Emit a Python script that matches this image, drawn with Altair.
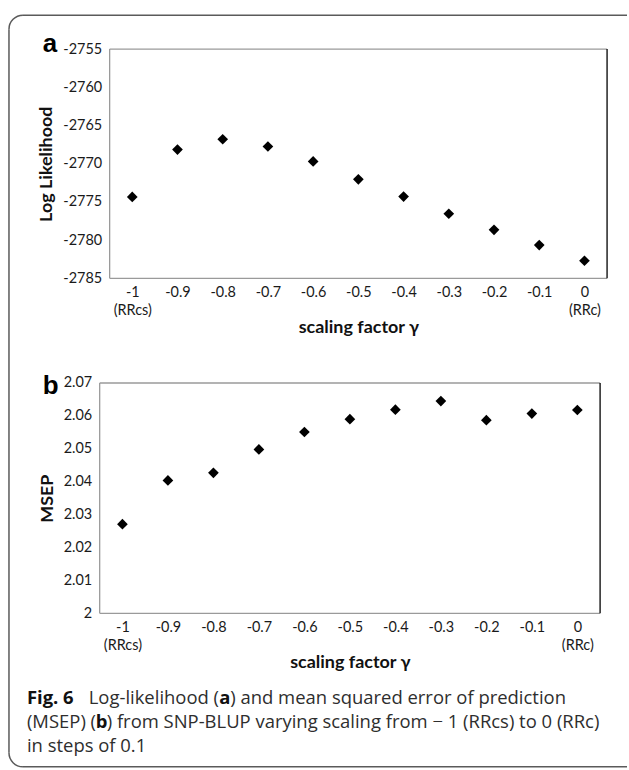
import math
import altair as alt
import pandas as pd

# ---------------- data ----------------
gamma_labels = ["-1", "-0.9", "-0.8", "-0.7", "-0.6", "-0.5", "-0.4", "-0.3", "-0.2", "-0.1", "0"]
log_likelihood = [-2774.35, -2768.15, -2766.8, -2767.75, -2769.7, -2772.05, -2774.3,
                  -2776.55, -2778.65, -2780.65, -2782.7]
msep = [2.0271, 2.0404, 2.0427, 2.0498, 2.0551, 2.0590, 2.0619, 2.0645, 2.0587, 2.0607, 2.0618]
ll_ticks = [-2785, -2780, -2775, -2770, -2765, -2760, -2755]
msep_ticks = [2.0, 2.01, 2.02, 2.03, 2.04, 2.05, 2.06, 2.07]
x_title = "scaling factor γ"
ll_title = "Log Likelihood"
msep_title = "MSEP"
caption_line1 = ["Fig. 6", "Log-likelihood (", "a", ") and mean squared error of prediction"]
caption_line2 = ["(MSEP) (", "b", ") from SNP-BLUP varying scaling from \u2212 1 (RRcs) to 0 (RRc)"]
caption_line3 = ["in steps of 0.1"]

df_a = pd.DataFrame({"gamma": gamma_labels, "value": log_likelihood})
df_b = pd.DataFrame({"gamma": gamma_labels, "value": msep})
one = pd.DataFrame({"k": [0]})

LABEL_FONT = "Lato"
CAP_FONT = "Open Sans"
FRAME = "#9a9a9a"
BORDER = "#5a5a5a"

label_expr_x = ("datum.label == '-1' ? ['-1', '(RRcs)'] : "
                "(datum.label == '0' ? ['0', '(RRc)'] : datum.label)")


def x_enc(x0, w):
    return alt.X(
        "gamma:N", sort=gamma_labels,
        scale=alt.Scale(type="point", padding=0.5, range=[x0, x0 + w]),
        axis=alt.Axis(title=x_title, labelAngle=0, labelExpr=label_expr_x,
                      labelPadding=7, labelLineHeight=18, labelFont=LABEL_FONT,
                      labelFontSize=14.5, labelColor="#1a1a1a", titleFont=LABEL_FONT,
                      titleFontSize=18, titleFontWeight="bold", titleColor="#111",
                      titlePadding=2, titleX=x0 + w / 2, ticks=False, domain=False,
                      grid=False, labelOverlap=False),
    )


def y_axis(title, values, x0):
    return alt.Axis(title=title, values=values, labelExpr="'' + datum.value",
                    labelPadding=8, labelFont=LABEL_FONT, labelFontSize=14.5,
                    labelColor="#1a1a1a", titleFont=LABEL_FONT, titleFontSize=18,
                    titleFontWeight="bold", titleColor="#111", titlePadding=7,
                    offset=-x0, ticks=False, domain=False, grid=False)


def txt(s, x, y, size, weight="normal", font=CAP_FONT, color="#2e2e2e", baseline="middle"):
    return alt.Chart(one).mark_text(
        text=s, align="left", baseline=baseline, font=font, fontSize=size,
        fontWeight=weight, color=color
    ).encode(x=alt.value(x), y=alt.value(y))


def frame(x0, w, h):
    sw = 1.3
    return [
        alt.Chart(one).mark_rule(color=FRAME, strokeWidth=sw).encode(
            x=alt.value(x0), x2=alt.value(x0 + w), y=alt.value(0)),
        alt.Chart(one).mark_rule(color=FRAME, strokeWidth=sw).encode(
            x=alt.value(x0), x2=alt.value(x0 + w), y=alt.value(h)),
        alt.Chart(one).mark_rule(color=FRAME, strokeWidth=sw).encode(
            x=alt.value(x0), y=alt.value(0), y2=alt.value(h)),
        alt.Chart(one).mark_rule(color="black", strokeWidth=sw).encode(
            x=alt.value(x0 + w), y=alt.value(0), y2=alt.value(h)),
    ]


# ---------------- panel a ----------------
XA, WA, HA = 10, 499, 230
pts_a = alt.Chart(df_a).mark_point(shape="diamond", filled=True, size=115,
                                    color="black", opacity=1).encode(
    x=x_enc(XA, WA),
    y=alt.Y("value:Q", scale=alt.Scale(domain=[-2785, -2755], nice=False, zero=False),
            axis=y_axis(ll_title, ll_ticks, XA)),
)

# figure border (relative to the panels' common origin)
L, T, R, B, RAD = -91, -34, 529, 720, 14
border = [
    alt.Chart(one).mark_rule(color=BORDER, strokeWidth=1.5).encode(
        x=alt.value(L + RAD), x2=alt.value(R), y=alt.value(T)),
    alt.Chart(one).mark_rule(color=BORDER, strokeWidth=1.5).encode(
        x=alt.value(L + RAD), x2=alt.value(R), y=alt.value(B)),
    alt.Chart(one).mark_rule(color=BORDER, strokeWidth=1.5).encode(
        x=alt.value(L), y=alt.value(T + RAD), y2=alt.value(B - RAD)),
    alt.Chart(one).mark_arc(theta=1.5 * math.pi, theta2=2 * math.pi,
                            radius=RAD + 0.75, radius2=RAD - 0.75, color=BORDER).encode(
        x=alt.value(L + RAD), y=alt.value(T + RAD)),
    alt.Chart(one).mark_arc(theta=math.pi, theta2=1.5 * math.pi,
                            radius=RAD + 0.75, radius2=RAD - 0.75, color=BORDER).encode(
        x=alt.value(L + RAD), y=alt.value(B - RAD)),
]

label_a = txt("a", -57, 3, 26, weight="bold", font="Liberation Sans", color="black",
              baseline="alphabetic")

panel_a = alt.layer(pts_a, label_a, *frame(XA, WA, HA), *border).properties(
    width=XA + WA, height=HA,
    view=alt.ViewBackground(stroke="transparent"))

# ---------------- panel b ----------------
XB, WB, HB = 0, 502, 231
pts_b = alt.Chart(df_b).mark_point(shape="diamond", filled=True, size=115,
                                    color="black", opacity=1).encode(
    x=x_enc(XB, WB),
    y=alt.Y("value:Q", scale=alt.Scale(domain=[2.0, 2.07], nice=False, zero=False),
            axis=y_axis(msep_title, msep_ticks, XB)),
)

label_b = txt("b", -57, 11, 26, weight="bold", font="Liberation Sans", color="black",
              baseline="alphabetic")

CS = 18.5
cap = [
    txt(caption_line1[0], -73, 316, CS, weight="bold", color="#111"),
    txt(caption_line1[1], -11, 316, CS),
    txt(caption_line1[2], 120, 316, CS, weight="bold", color="#111"),
    txt(caption_line1[3], 131, 316, CS),
    txt(caption_line2[0], -73, 340, CS),
    txt(caption_line2[1], -4, 340, CS, weight="bold", color="#111"),
    txt(caption_line2[2], 7, 340, CS),
    txt(caption_line3[0], -73, 364, CS),
]

panel_b = alt.layer(pts_b, label_b, *frame(XB, WB, HB), *cap).properties(
    width=WB, height=HB,
    view=alt.ViewBackground(stroke="transparent"))

chart = alt.vconcat(panel_a, panel_b, spacing=105, bounds="flush").properties(
    padding={"left": 7, "top": 12, "right": 0, "bottom": 0},
    background="white",
).configure_view(stroke="transparent")

chart.save("out.html", embed_options={"renderer": "svg", "actions": False})
